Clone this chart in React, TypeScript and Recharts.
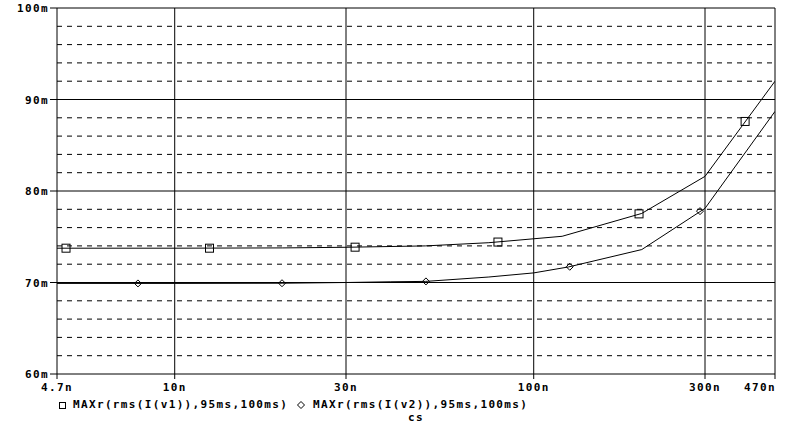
import React from 'react';
import { ComposedChart, Line, Scatter, XAxis, YAxis, ReferenceLine } from 'recharts';

// cs values in nF (log axis), MAXr values in mA
const csV1 = [4.7, 10, 20, 30, 50, 75, 120, 200, 300, 470];
const maxV1 = [73.75, 73.75, 73.78, 73.85, 74.0, 74.35, 75.05, 77.55, 81.6, 92.0];
const csV2 = [4.7, 10, 20, 30, 40, 50, 75, 100, 125, 200, 300, 470];
const maxV2 = [69.9, 69.9, 69.92, 70.0, 70.08, 70.12, 70.6, 71.05, 71.7, 73.6, 78.1, 88.7];

// marker positions along each trace
const mkV1X = [4.98, 12.5, 31.8, 79.5, 196.5, 388];
const mkV1Y = [73.75, 73.75, 73.86, 74.42, 77.5, 87.6];
const mkV2X = [7.9, 19.9, 50.1, 126, 290.5];
const mkV2Y = [69.9, 69.92, 70.12, 71.72, 77.8];

const xTicks = [4.7, 10, 30, 100, 300, 470];
const yTicks = [60, 70, 80, 90, 100];
const yMinor = [62, 64, 66, 68, 72, 74, 76, 78, 82, 84, 86, 88, 92, 94, 96, 98];
const legendLabels = ['MAXr(rms(I(v1)),95ms,100ms)', 'MAXr(rms(I(v2)),95ms,100ms)'];
const xTitle = 'cs';

const v1Data = csV1.map((x, i) => ({ x, y: maxV1[i] }));
const v2Data = csV2.map((x, i) => ({ x, y: maxV2[i] }));
const mk1 = mkV1X.map((x, i) => ({ x, y: mkV1Y[i] }));
const mk2 = mkV2X.map((x, i) => ({ x, y: mkV2Y[i] }));

const FONT = "'DejaVu Sans Mono', monospace";
const fontProps = { fontFamily: FONT, fontSize: 11, fontWeight: 'bold' as const, letterSpacing: 1.35 };

const Square = (p: any) => (
  <rect x={p.cx - 4} y={p.cy - 4} width={8} height={8} fill="none" stroke="#000" strokeWidth={1} />
);
const Diamond = (p: any) => (
  <path d={`M${p.cx},${p.cy - 3.5}L${p.cx + 3.5},${p.cy}L${p.cx},${p.cy + 3.5}L${p.cx - 3.5},${p.cy}Z`} fill="none" stroke="#000" strokeWidth={1} />
);

const XTick = (p: any) => {
  const v = p.payload.value;
  const last = v === 470;
  return (
    <text x={last ? p.x + 1 : p.x} y={p.y + 8} textAnchor={last ? 'end' : 'middle'} fill="#000" {...fontProps}>
      {`${v}n`}
    </text>
  );
};
const YTick = (p: any) => (
  <text x={p.x} y={p.y + 4} textAnchor="end" fill="#000" {...fontProps}>
    {`${p.payload.value}m`}
  </text>
);

export default function App() {
  return (
    <div style={{ position: 'absolute', left: 0, top: 0, width: 787, height: 433, background: '#fff' }}>
      <ComposedChart width={787} height={433} margin={{ top: 8, right: 12, bottom: 0, left: 0 }}>
        <XAxis
          dataKey="x"
          type="number"
          scale="log"
          domain={[4.7, 470]}
          allowDataOverflow
          ticks={xTicks}
          height={59}
          axisLine={{ stroke: '#000' }}
          tickLine={{ stroke: '#000' }}
          tickSize={5}
          tickMargin={4}
          tick={<XTick />}
          interval={0}
        />
        <YAxis
          type="number"
          domain={[60, 100]}
          ticks={yTicks}
          width={57}
          axisLine={{ stroke: '#000' }}
          tickLine={{ stroke: '#000' }}
          tickSize={7}
          tickMargin={1}
          tick={<YTick />}
          interval={0}
        />
        {yMinor.map((v) => (
          <ReferenceLine key={`m${v}`} y={v} stroke="#000" strokeDasharray="5 5" />
        ))}
        {yTicks.slice(1).map((v) => (
          <ReferenceLine key={`M${v}`} y={v} stroke="#000" />
        ))}
        {xTicks.slice(1).map((v) => (
          <ReferenceLine key={`X${v}`} x={v} stroke="#000" />
        ))}
        <Line data={v1Data} dataKey="y" stroke="#000" strokeWidth={1} dot={false} isAnimationActive={false} type="linear" />
        <Line data={v2Data} dataKey="y" stroke="#000" strokeWidth={1} dot={false} isAnimationActive={false} type="linear" />
        <Scatter data={mk1} dataKey="y" shape={<Square />} isAnimationActive={false} />
        <Scatter data={mk2} dataKey="y" shape={<Diamond />} isAnimationActive={false} />
      </ComposedChart>
      <svg width={787} height={433} style={{ position: 'absolute', left: 0, top: 0, pointerEvents: 'none' }}>
        <rect x={59.5} y={402.5} width={6} height={6} fill="none" stroke="#000" />
        <text x={73} y={408} fill="#000" {...fontProps}>{legendLabels[0]}</text>
        <path d="M301,401.5L304.5,405L301,408.5L297.5,405Z" fill="none" stroke="#000" />
        <text x={313} y={408} fill="#000" {...fontProps}>{legendLabels[1]}</text>
        <text x={408} y={421} fill="#000" {...fontProps}>{xTitle}</text>
      </svg>
    </div>
  );
}
